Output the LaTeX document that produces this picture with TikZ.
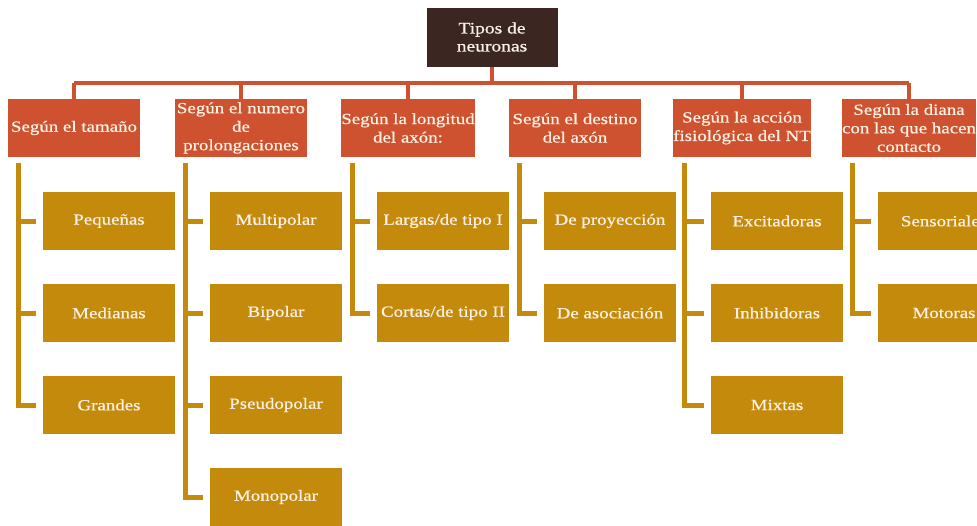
\documentclass[tikz,border=0pt]{standalone}
\usepackage{fontspec}
\setmainfont{Liberation Serif}[FakeStretch=1.22,FakeBold=0.7]
\usetikzlibrary{positioning}

\definecolor{cafe}{HTML}{3C2622}
\definecolor{teja}{HTML}{CF5230}
\definecolor{ocre}{HTML}{C48A0C}
\definecolor{crema}{HTML}{FBF1E4}

\tikzset{
  raiz/.style={fill=cafe, text=crema, minimum width=131pt, minimum height=59pt,
    inner sep=0pt, align=center, font=\fontsize{16}{18}\selectfont},
  tipo/.style={fill=teja, text=crema, minimum width=132pt, minimum height=58pt,
    inner sep=0pt, align=center, font=\fontsize{15.5}{18.5}\selectfont},
  clase/.style={fill=ocre, text=crema, minimum width=132pt, minimum height=58pt,
    inner sep=0pt, align=center, font=\fontsize{15.5}{18.5}\selectfont},
  rama/.style={draw=teja, line width=4pt},
  hoja/.style={draw=ocre, line width=5pt}
}

\begin{document}
\begin{tikzpicture}[x=1pt,y=-1pt,on grid]

    \useasboundingbox (0,0) rectangle (977,525);

    \node[raiz] (tipos) at (492,37) {Tipos de\\neuronas};

    % criterios
    \node[tipo] (tam) at (74,128) {Según el tamaño};
    \node[tipo] (pro) [right=167pt of tam] {Según el numero\\de\\prolongaciones};
    \node[tipo] (lon) [right=167pt of pro] {Según la longitud\\del axón:};
    \node[tipo] (des) [right=167pt of lon] {Según el destino\\del axón};
    \node[tipo] (acc) [right=167pt of des] {Según la acción\\fisiológica del NT};
    \node[tipo] (dia) [right=167pt of acc] {Según la diana\\con las que hacen\\contacto};

    % clases
    \node[clase] (tam1) [below right=93pt and 35pt of tam] {Pequeñas};
    \node[clase] (tam2) [below=92pt of tam1] {Medianas};
    \node[clase] (tam3) [below=92pt of tam2] {Grandes};

    \node[clase] (pro1) [below right=93pt and 35pt of pro] {Multipolar};
    \node[clase] (pro2) [below=92pt of pro1] {Bipolar};
    \node[clase] (pro3) [below=92pt of pro2] {Pseudopolar};
    \node[clase] (pro4) [below=92pt of pro3] {Monopolar};

    \node[clase] (lon1) [below right=93pt and 35pt of lon] {Largas/de tipo I};
    \node[clase] (lon2) [below=92pt of lon1] {Cortas/de tipo II};

    \node[clase] (des1) [below right=93pt and 35pt of des] {De proyección};
    \node[clase] (des2) [below=92pt of des1] {De asociación};

    \node[clase] (acc1) [below right=93pt and 35pt of acc] {Excitadoras};
    \node[clase] (acc2) [below=92pt of acc1] {Inhibidoras};
    \node[clase] (acc3) [below=92pt of acc2] {Mixtas};

    \node[clase] (dia1) [below right=93pt and 35pt of dia] {Sensoriales};
    \node[clase] (dia2) [below=92pt of dia1] {Motoras};

    % ramas superiores
    \coordinate (barra) at ([yshift=-16pt]tipos.south);
    \draw[rama] (tipos.south) -- (barra);
    \draw[rama] (tam.north |- barra) -- (dia.north |- barra);
    \draw[rama] (tam.north |- barra) -- (tam.north);
    \draw[rama] (pro.north |- barra) -- (pro.north);
    \draw[rama] (lon.north |- barra) -- (lon.north);
    \draw[rama] (des.north |- barra) -- (des.north);
    \draw[rama] (acc.north |- barra) -- (acc.north);
    \draw[rama] (dia.north |- barra) -- (dia.north);

    % lineas de clases
    \coordinate (vtam) at ([xshift=11pt,yshift=-6pt]tam.south west);
    \draw[hoja] (vtam) |- ([xshift=-7pt]tam3.west);
    \draw[hoja] (vtam |- tam1.west) -- ([xshift=-7pt]tam1.west);
    \draw[hoja] (vtam |- tam2.west) -- ([xshift=-7pt]tam2.west);

    \coordinate (vpro) at ([xshift=11pt,yshift=-6pt]pro.south west);
    \draw[hoja] (vpro) |- ([xshift=-7pt]pro4.west);
    \draw[hoja] (vpro |- pro1.west) -- ([xshift=-7pt]pro1.west);
    \draw[hoja] (vpro |- pro2.west) -- ([xshift=-7pt]pro2.west);
    \draw[hoja] (vpro |- pro3.west) -- ([xshift=-7pt]pro3.west);

    \coordinate (vlon) at ([xshift=11pt,yshift=-6pt]lon.south west);
    \draw[hoja] (vlon) |- ([xshift=-7pt]lon2.west);
    \draw[hoja] (vlon |- lon1.west) -- ([xshift=-7pt]lon1.west);

    \coordinate (vdes) at ([xshift=11pt,yshift=-6pt]des.south west);
    \draw[hoja] (vdes) |- ([xshift=-7pt]des2.west);
    \draw[hoja] (vdes |- des1.west) -- ([xshift=-7pt]des1.west);

    \coordinate (vacc) at ([xshift=11pt,yshift=-6pt]acc.south west);
    \draw[hoja] (vacc) |- ([xshift=-7pt]acc3.west);
    \draw[hoja] (vacc |- acc1.west) -- ([xshift=-7pt]acc1.west);
    \draw[hoja] (vacc |- acc2.west) -- ([xshift=-7pt]acc2.west);

    \coordinate (vdia) at ([xshift=11pt,yshift=-6pt]dia.south west);
    \draw[hoja] (vdia) |- ([xshift=-7pt]dia2.west);
    \draw[hoja] (vdia |- dia1.west) -- ([xshift=-7pt]dia1.west);

\end{tikzpicture}
\end{document}
